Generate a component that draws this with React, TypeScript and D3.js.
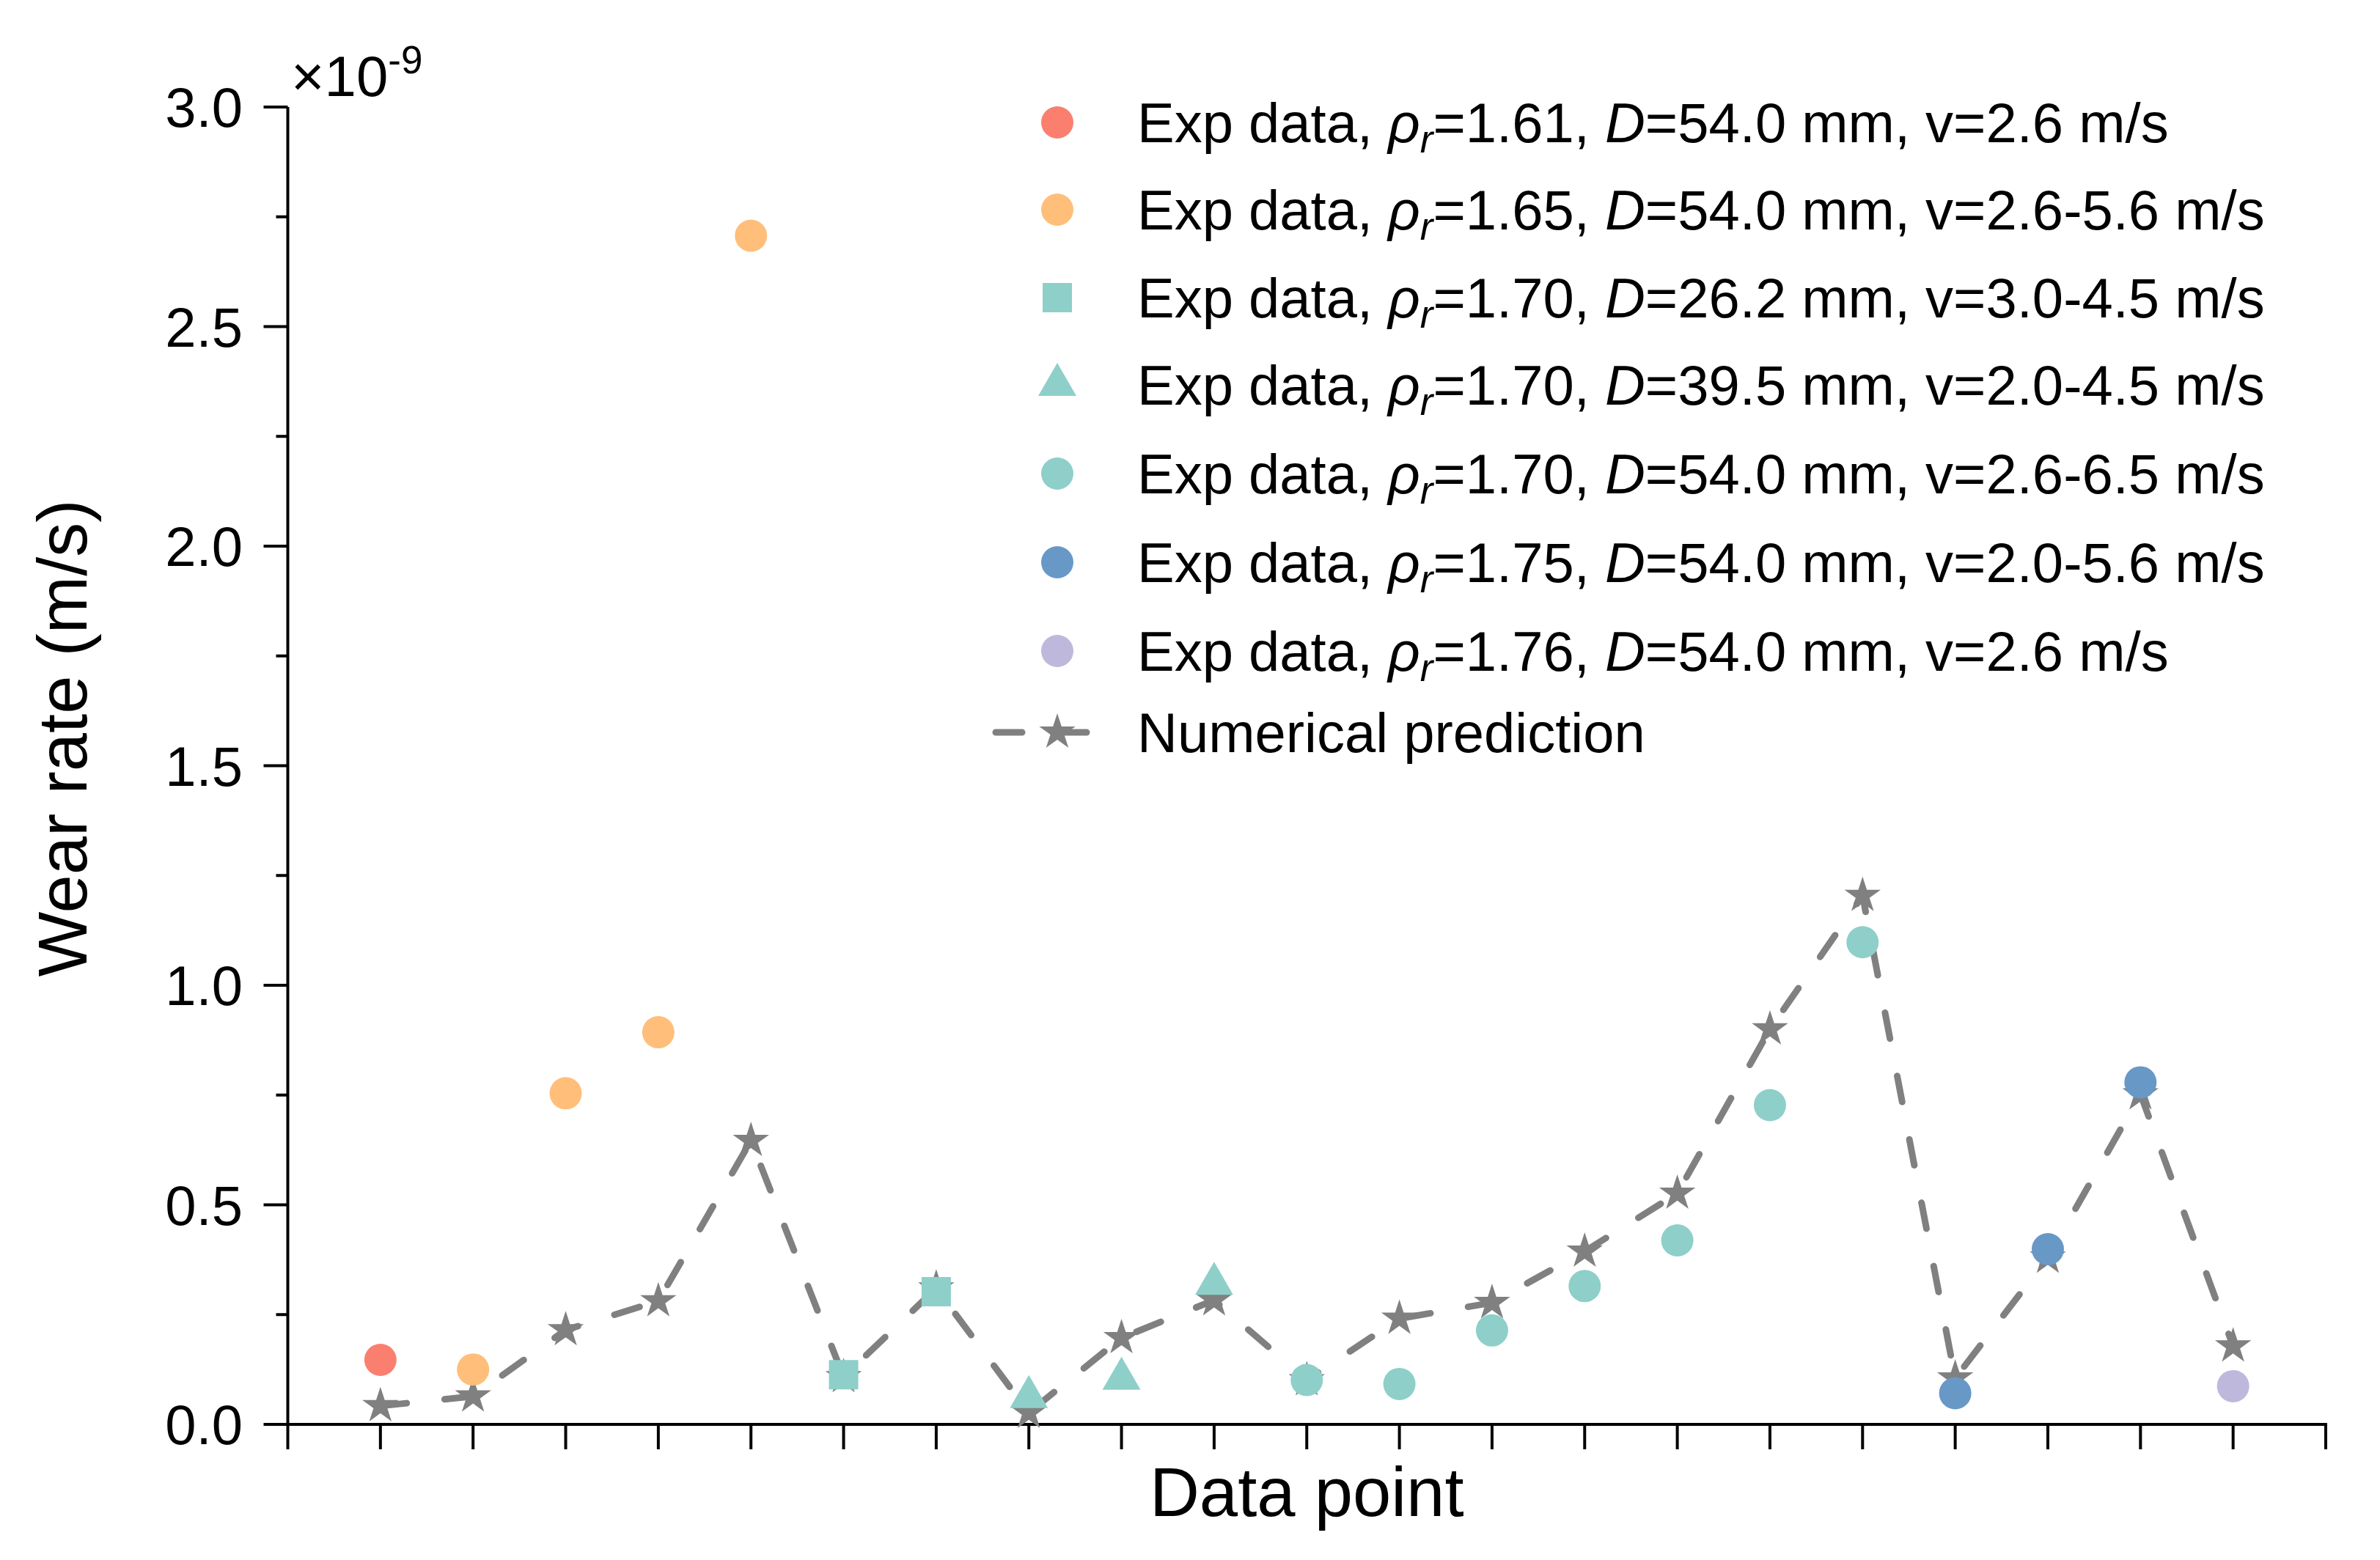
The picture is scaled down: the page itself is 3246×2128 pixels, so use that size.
import React from "react";
import * as d3 from "d3";

const W = 3246;
const H = 2128;

// ---- data ----
const dataPoints = [1, 2, 3, 4, 5, 6, 7, 8, 9, 10, 11, 12, 13, 14, 15, 16, 17, 18, 19, 20, 21];
const expValues = [0.147, 0.125, 0.754, 0.893, 2.707, 0.113, 0.302, 0.062, 0.104, 0.32, 0.101, 0.092, 0.214, 0.315, 0.419, 0.727, 1.098, 0.071, 0.399, 0.779, 0.087];
const expGroup = [0, 1, 1, 1, 1, 2, 2, 3, 3, 3, 4, 4, 4, 4, 4, 4, 4, 5, 5, 5, 6];
const predValues = [0.042, 0.064, 0.215, 0.281, 0.646, 0.108, 0.31, 0.027, 0.197, 0.283, 0.101, 0.241, 0.277, 0.394, 0.526, 0.9, 1.204, 0.105, 0.38, 0.752, 0.178];

const groupRho = ["1.61", "1.65", "1.70", "1.70", "1.70", "1.75", "1.76"];
const groupD = ["54.0", "54.0", "26.2", "39.5", "54.0", "54.0", "54.0"];
const groupV = ["2.6", "2.6-5.6", "3.0-4.5", "2.0-4.5", "2.6-6.5", "2.0-5.6", "2.6"];
const groupColor = ["#FA7F6F", "#FFBE7A", "#8ECFC9", "#8ECFC9", "#8ECFC9", "#6898C6", "#BEB8DC"];
const groupShape = ["circle", "circle", "square", "triangle", "circle", "circle", "circle"];

const yTicks = [0, 0.5, 1.0, 1.5, 2.0, 2.5, 3.0];
const yMinorTicks = [0.25, 0.75, 1.25, 1.75, 2.25, 2.75];
const xTicks = d3.range(0, 23);

const predColor = "#808080";
const FONT = "'Liberation Sans', Arial, Helvetica, sans-serif";

const symbolFor = (shape: string) => {
  if (shape === "square") return d3.symbol(d3.symbolSquare, 1600)();
  if (shape === "triangle") return d3.symbol(d3.symbolTriangle, 1169)();
  return d3.symbol(d3.symbolCircle, 1520)();
};
const starPath = d3.symbol(d3.symbolStar, 760)();

export default function App() {
  const x = d3.scaleLinear().domain([0, 22]).range([392.5, 3172]);
  const y = d3.scaleLinear().domain([0, 3]).range([1943, 146]);

  const line = d3
    .line<number>()
    .x((_, i) => x(dataPoints[i]))
    .y((d) => y(d));

  const legendX = 1442;
  const legendTextX = 1551;
  const legendRows = [167, 286, 406, 525, 646, 767, 888];
  const predRowY = 999;
  const fsLegend = 76;

  return (
    <svg
      width={W}
      height={H}
      viewBox={`0 0 ${W} ${H}`}
      style={{ position: "absolute", left: 0, top: 0, background: "#fff" }}
      fontFamily={FONT}
    >
      <rect x={0} y={0} width={W} height={H} fill="#fff" />

      {/* Y axis */}
      <line x1={x(0)} x2={x(0)} y1={y(3)} y2={y(0)} stroke="#000" strokeWidth={4} />
      {yTicks.map((t) => (
        <g key={"yt" + t}>
          <line x1={x(0) - 33} x2={x(0)} y1={y(t)} y2={y(t)} stroke="#000" strokeWidth={4} />
          <text x={331} y={y(t)} dy="0.36em" textAnchor="end" fontSize={76} fill="#000">
            {t.toFixed(1)}
          </text>
        </g>
      ))}
      {yMinorTicks.map((t) => (
        <line key={"ym" + t} x1={x(0) - 16} x2={x(0)} y1={y(t)} y2={y(t)} stroke="#000" strokeWidth={4} />
      ))}

      {/* multiplier */}
      <text x={397} y={131} fontSize={78} fill="#000">
        ×10
        <tspan fontSize={53} dy={-31}>-9</tspan>
      </text>

      {/* X axis */}
      <line x1={x(0) - 2} x2={x(22) + 2} y1={y(0)} y2={y(0)} stroke="#000" strokeWidth={4} />
      {xTicks.map((t) => (
        <line key={"xt" + t} x1={x(t)} x2={x(t)} y1={y(0)} y2={y(0) + 34} stroke="#000" strokeWidth={4} />
      ))}

      {/* Axis titles */}
      <text x={(x(0) + x(22)) / 2} y={2068} textAnchor="middle" fontSize={94} fill="#000">
        Data point
      </text>
      <text transform={`translate(118, ${1007}) rotate(-90)`} textAnchor="middle" fontSize={94} fill="#000">
        Wear rate (m/s)
      </text>

      {/* Prediction line */}
      <path
        d={line(predValues) || ""}
        fill="none"
        stroke={predColor}
        strokeWidth={9}
        strokeDasharray="36 52"
        strokeLinecap="round"
        strokeLinejoin="round"
      />
      {predValues.map((v, i) => (
        <path key={"s" + i} d={starPath || ""} transform={`translate(${x(dataPoints[i])},${y(v)})`} fill={predColor} />
      ))}

      {/* Experimental points */}
      {expValues.map((v, i) => (
        <path
          key={"e" + i}
          d={symbolFor(groupShape[expGroup[i]]) || ""}
          transform={`translate(${x(dataPoints[i])},${y(v)})`}
          fill={groupColor[expGroup[i]]}
        />
      ))}

      {/* Legend */}
      {groupRho.map((rho, g) => (
        <g key={"lg" + g}>
          <path d={symbolFor(groupShape[g]) || ""} transform={`translate(${legendX},${legendRows[g]})`} fill={groupColor[g]} />
          <text x={legendTextX} y={legendRows[g]} dy="0.36em" fontSize={fsLegend} fill="#000">
            Exp data,{" "}
            <tspan fontStyle="italic">ρ</tspan>
            <tspan fontStyle="italic" fontSize={53} dy={14}>r</tspan>
            <tspan dy={-14}>{"=" + rho + ", "}</tspan>
            <tspan fontStyle="italic">D</tspan>
            <tspan>{"=" + groupD[g] + " mm, v=" + groupV[g] + " m/s"}</tspan>
          </text>
        </g>
      ))}
      <line
        x1={1358}
        x2={1490}
        y1={predRowY}
        y2={predRowY}
        stroke={predColor}
        strokeWidth={9}
        strokeDasharray="36 52"
        strokeLinecap="round"
      />
      <path d={starPath || ""} transform={`translate(${legendX},${predRowY})`} fill={predColor} />
      <text x={legendTextX} y={predRowY} dy="0.36em" fontSize={fsLegend} fill="#000">
        Numerical prediction
      </text>
    </svg>
  );
}
